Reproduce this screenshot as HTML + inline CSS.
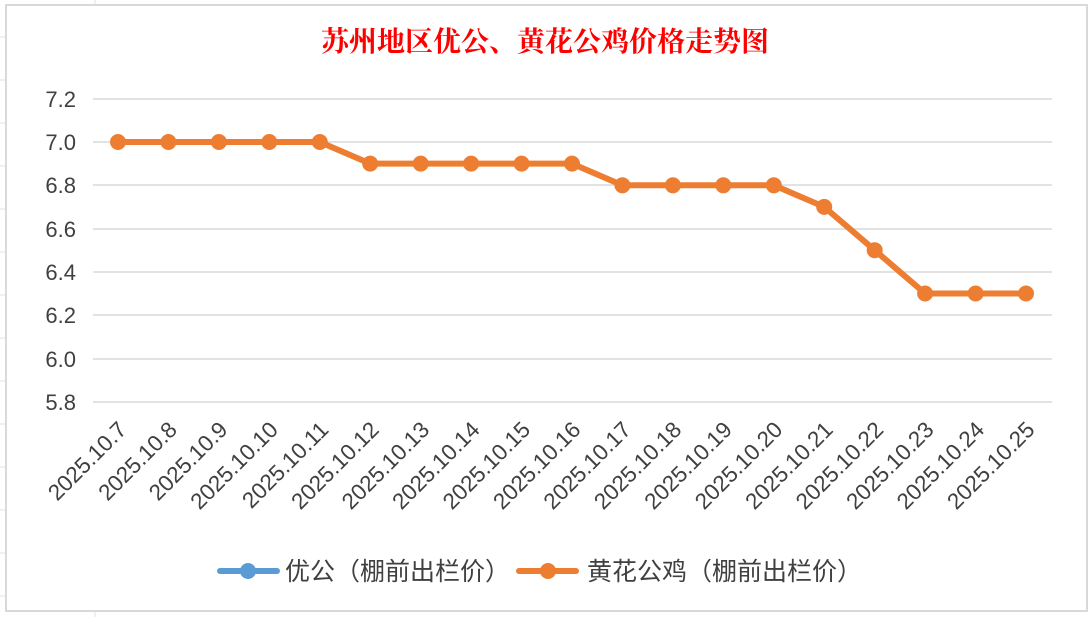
<!DOCTYPE html><html><head><meta charset="utf-8"><style>body{margin:0;background:#fff}svg{display:block}</style></head><body>
<svg width="1090" height="617" xmlns="http://www.w3.org/2000/svg" font-family="Liberation Sans, Noto Sans CJK SC, sans-serif">
<g stroke="#e0e0e0" stroke-width="1">
<line x1="0" y1="37" x2="6" y2="37"/><line x1="0" y1="80" x2="6" y2="80"/><line x1="0" y1="123" x2="6" y2="123"/>
<line x1="0" y1="166" x2="6" y2="166"/><line x1="0" y1="209" x2="6" y2="209"/><line x1="0" y1="252" x2="6" y2="252"/>
<line x1="0" y1="295" x2="6" y2="295"/><line x1="0" y1="338" x2="6" y2="338"/><line x1="0" y1="381" x2="6" y2="381"/>
<line x1="0" y1="424" x2="6" y2="424"/><line x1="0" y1="467" x2="6" y2="467"/><line x1="0" y1="510" x2="6" y2="510"/><line x1="0" y1="553" x2="6" y2="553"/><line x1="0" y1="596" x2="6" y2="596"/>
<line x1="95" y1="0" x2="95" y2="5"/><line x1="95" y1="611" x2="95" y2="617"/>
</g>
<rect x="6" y="5" width="1081" height="606" fill="#fff" stroke="#d9d9d9" stroke-width="2"/>
<text x="545" y="51" text-anchor="middle" fill="#ff0000" font-size="28" font-family="Liberation Serif, Noto Serif CJK SC, serif" font-weight="bold">苏州地区优公、黄花公鸡价格走势图</text>
<g stroke="#d9d9d9" stroke-width="1.5">
<line x1="93" y1="99" x2="1052" y2="99"/><line x1="93" y1="142" x2="1052" y2="142"/><line x1="93" y1="185" x2="1052" y2="185"/><line x1="93" y1="229" x2="1052" y2="229"/><line x1="93" y1="272" x2="1052" y2="272"/><line x1="93" y1="315" x2="1052" y2="315"/><line x1="93" y1="359" x2="1052" y2="359"/><line x1="93" y1="402" x2="1052" y2="402"/>
</g>
<g fill="#404040" font-size="22" text-anchor="end">
<text x="76" y="107">7.2</text><text x="76" y="150">7.0</text><text x="76" y="193">6.8</text><text x="76" y="237">6.6</text><text x="76" y="280">6.4</text><text x="76" y="323">6.2</text><text x="76" y="367">6.0</text><text x="76" y="410">5.8</text>
</g>
<polyline fill="none" stroke="#ed7d31" stroke-width="6" stroke-linejoin="round" points="118,142 168.4,142 218.9,142 269.3,142 319.8,142 370.2,163.6 420.7,163.6 471.1,163.6 521.6,163.6 572,163.6 622.4,185.3 672.9,185.3 723.3,185.3 773.8,185.3 824.2,206.9 874.7,250.2 925.1,293.5 975.6,293.5 1026,293.5"/>
<g fill="#ed7d31">
<circle cx="118" cy="142" r="8"/><circle cx="168.4" cy="142" r="8"/><circle cx="218.9" cy="142" r="8"/><circle cx="269.3" cy="142" r="8"/><circle cx="319.8" cy="142" r="8"/><circle cx="370.2" cy="163.6" r="8"/><circle cx="420.7" cy="163.6" r="8"/><circle cx="471.1" cy="163.6" r="8"/><circle cx="521.6" cy="163.6" r="8"/><circle cx="572" cy="163.6" r="8"/><circle cx="622.4" cy="185.3" r="8"/><circle cx="672.9" cy="185.3" r="8"/><circle cx="723.3" cy="185.3" r="8"/><circle cx="773.8" cy="185.3" r="8"/><circle cx="824.2" cy="206.9" r="8"/><circle cx="874.7" cy="250.2" r="8"/><circle cx="925.1" cy="293.5" r="8"/><circle cx="975.6" cy="293.5" r="8"/><circle cx="1026" cy="293.5" r="8"/>
</g>
<g fill="#404040" font-size="22.5" text-anchor="end">
<text transform="translate(128,431) rotate(-45)">2025.10.7</text>
<text transform="translate(178.4,431) rotate(-45)">2025.10.8</text>
<text transform="translate(228.9,431) rotate(-45)">2025.10.9</text>
<text transform="translate(279.3,431) rotate(-45)">2025.10.10</text>
<text transform="translate(329.8,431) rotate(-45)">2025.10.11</text>
<text transform="translate(380.2,431) rotate(-45)">2025.10.12</text>
<text transform="translate(430.7,431) rotate(-45)">2025.10.13</text>
<text transform="translate(481.1,431) rotate(-45)">2025.10.14</text>
<text transform="translate(531.6,431) rotate(-45)">2025.10.15</text>
<text transform="translate(582,431) rotate(-45)">2025.10.16</text>
<text transform="translate(632.4,431) rotate(-45)">2025.10.17</text>
<text transform="translate(682.9,431) rotate(-45)">2025.10.18</text>
<text transform="translate(733.3,431) rotate(-45)">2025.10.19</text>
<text transform="translate(783.8,431) rotate(-45)">2025.10.20</text>
<text transform="translate(834.2,431) rotate(-45)">2025.10.21</text>
<text transform="translate(884.7,431) rotate(-45)">2025.10.22</text>
<text transform="translate(935.1,431) rotate(-45)">2025.10.23</text>
<text transform="translate(985.6,431) rotate(-45)">2025.10.24</text>
<text transform="translate(1036,431) rotate(-45)">2025.10.25</text>
</g>
<line x1="220" y1="571" x2="277" y2="571" stroke="#5b9bd5" stroke-width="6" stroke-linecap="round"/><circle cx="248" cy="571" r="8" fill="#5b9bd5"/>
<text x="285" y="580" font-size="25" fill="#404040">优公（棚前出栏价）</text>
<line x1="519" y1="571" x2="576" y2="571" stroke="#ed7d31" stroke-width="6" stroke-linecap="round"/><circle cx="548" cy="571" r="8" fill="#ed7d31"/>
<text x="587" y="580" font-size="25" fill="#404040">黄花公鸡（棚前出栏价）</text>
</svg>
</body></html>
